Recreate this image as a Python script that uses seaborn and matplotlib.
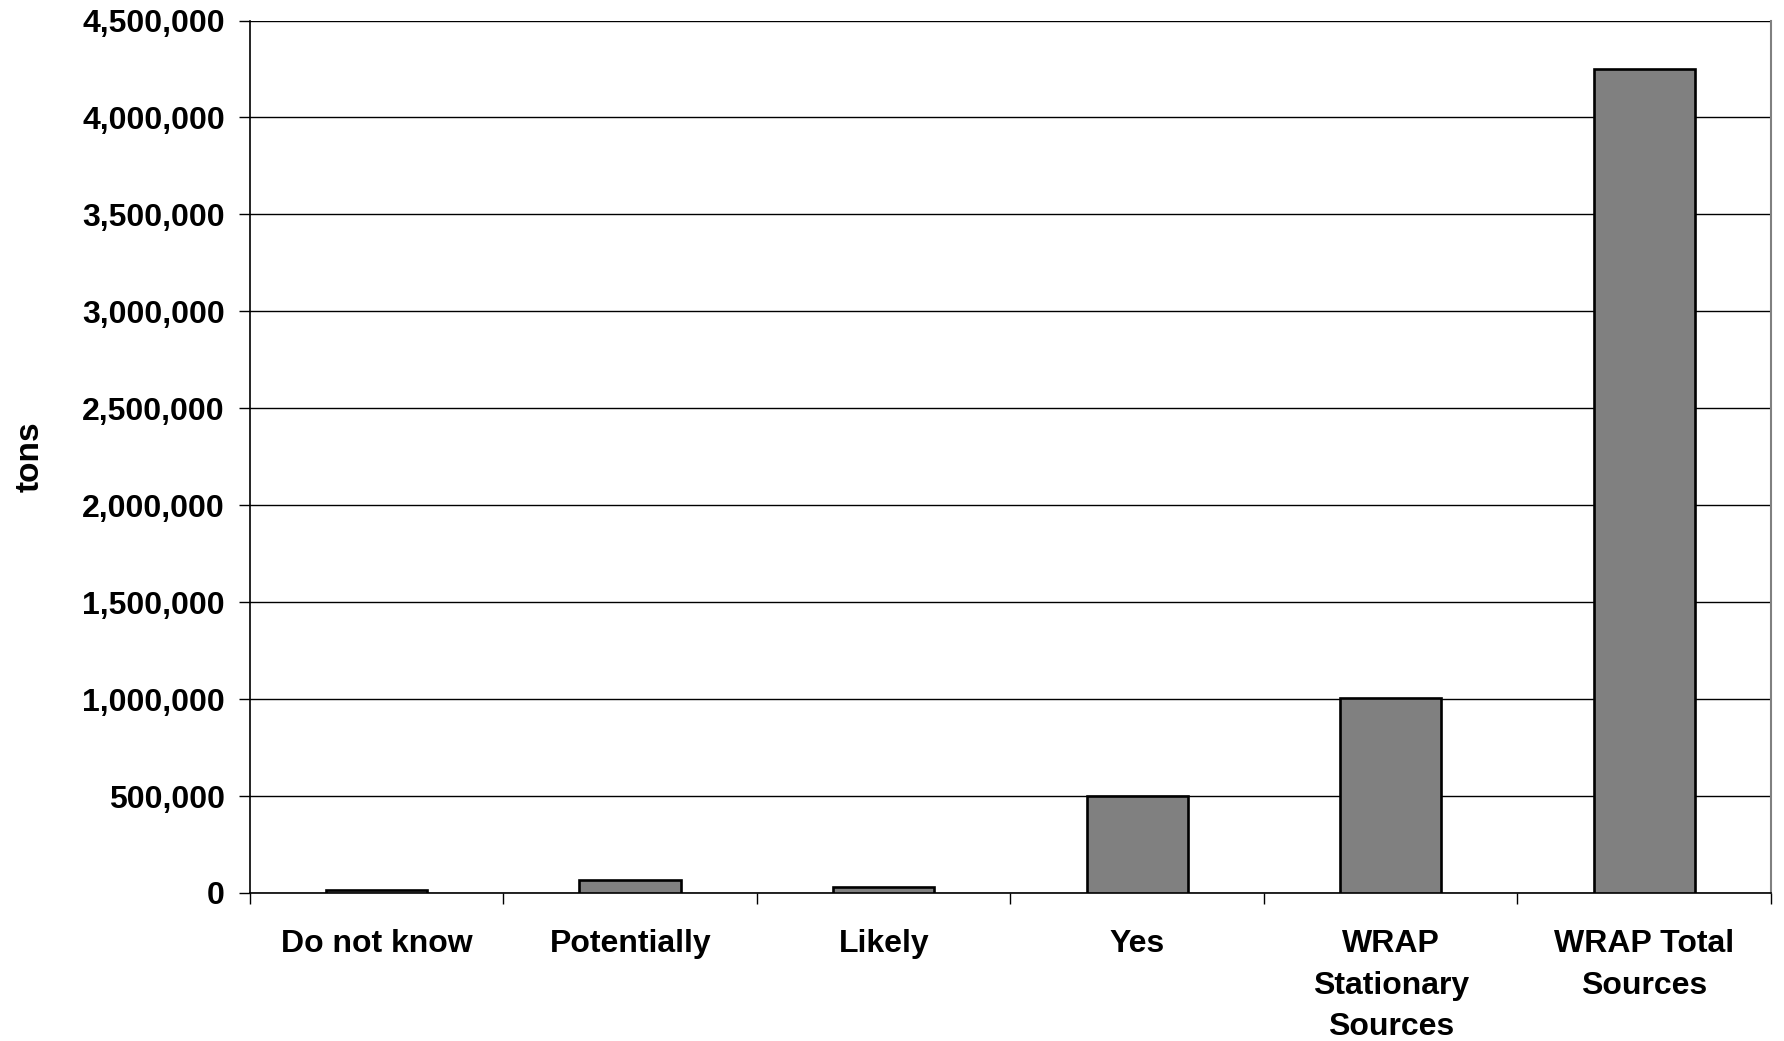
import matplotlib
matplotlib.use("Agg")
import matplotlib.pyplot as plt
import seaborn as sns
import pandas as pd
from matplotlib.ticker import FuncFormatter, FixedLocator

categories = ["Do not know", "Potentially", "Likely", "Yes",
              "WRAP\nStationary\nSources", "WRAP Total\nSources"]
tons = [14000, 65000, 33000, 500000, 1005000, 4250000]
y_ticks = [0, 500000, 1000000, 1500000, 2000000, 2500000,
           3000000, 3500000, 4000000, 4500000]

df = pd.DataFrame({"category": categories, "tons": tons})

sns.set_theme(style="white")
plt.rcParams["font.family"] = ["Liberation Sans", "DejaVu Sans"]
plt.rcParams["font.weight"] = "bold"
plt.rcParams["text.color"] = "black"
plt.rcParams["xtick.color"] = "black"
plt.rcParams["ytick.color"] = "black"
plt.rcParams["axes.labelcolor"] = "black"

fig = plt.figure(figsize=(17.84, 10.41), dpi=100)
ax = fig.add_axes([0.1401, 0.1422, 0.9927 - 0.1401, 0.9803 - 0.1422])

sns.barplot(data=df, x="category", y="tons", color="#808080",
            edgecolor="black", linewidth=1.9, width=0.4, saturation=1,
            ax=ax, zorder=3)

ax.set_xlim(-0.5, len(categories) - 0.5)
ax.set_ylim(0, 4500000)
ax.set_yticks(y_ticks)
ax.yaxis.set_major_formatter(FuncFormatter(lambda v, p: f"{int(v):,}"))
ax.yaxis.grid(True, color="black", linewidth=1.0, zorder=0)
ax.set_axisbelow(True)

# category boundaries get the tick marks, labels sit at bar centers
ax.xaxis.set_minor_locator(FixedLocator([i - 0.5 for i in range(len(categories) + 1)]))
ax.tick_params(axis="x", which="major", length=0, pad=26, labelsize=23)
ax.tick_params(axis="x", which="minor", length=8, width=1.0, color="black",
               direction="out", bottom=True)
ax.tick_params(axis="y", which="major", length=8, width=1.0, color="black",
               direction="out", left=True, pad=10, labelsize=23)
for lbl in ax.get_xticklabels():
    lbl.set_fontweight("bold")
    lbl.set_linespacing(1.5)
    lbl.set_verticalalignment("top")
    lbl.set_color("black")
for lbl in ax.get_yticklabels():
    lbl.set_fontweight("bold")
    lbl.set_color("black")

ax.set_xlabel("")
ax.set_ylabel("tons", fontsize=24, fontweight="bold", labelpad=26, color="black")

for side in ["left", "bottom"]:
    ax.spines[side].set_color("black")
    ax.spines[side].set_linewidth(1.2)
ax.spines["top"].set_visible(False)
ax.spines["right"].set_color("#808080")
ax.spines["right"].set_linewidth(1.5)

fig.savefig("out.png", dpi=100, facecolor="white")
